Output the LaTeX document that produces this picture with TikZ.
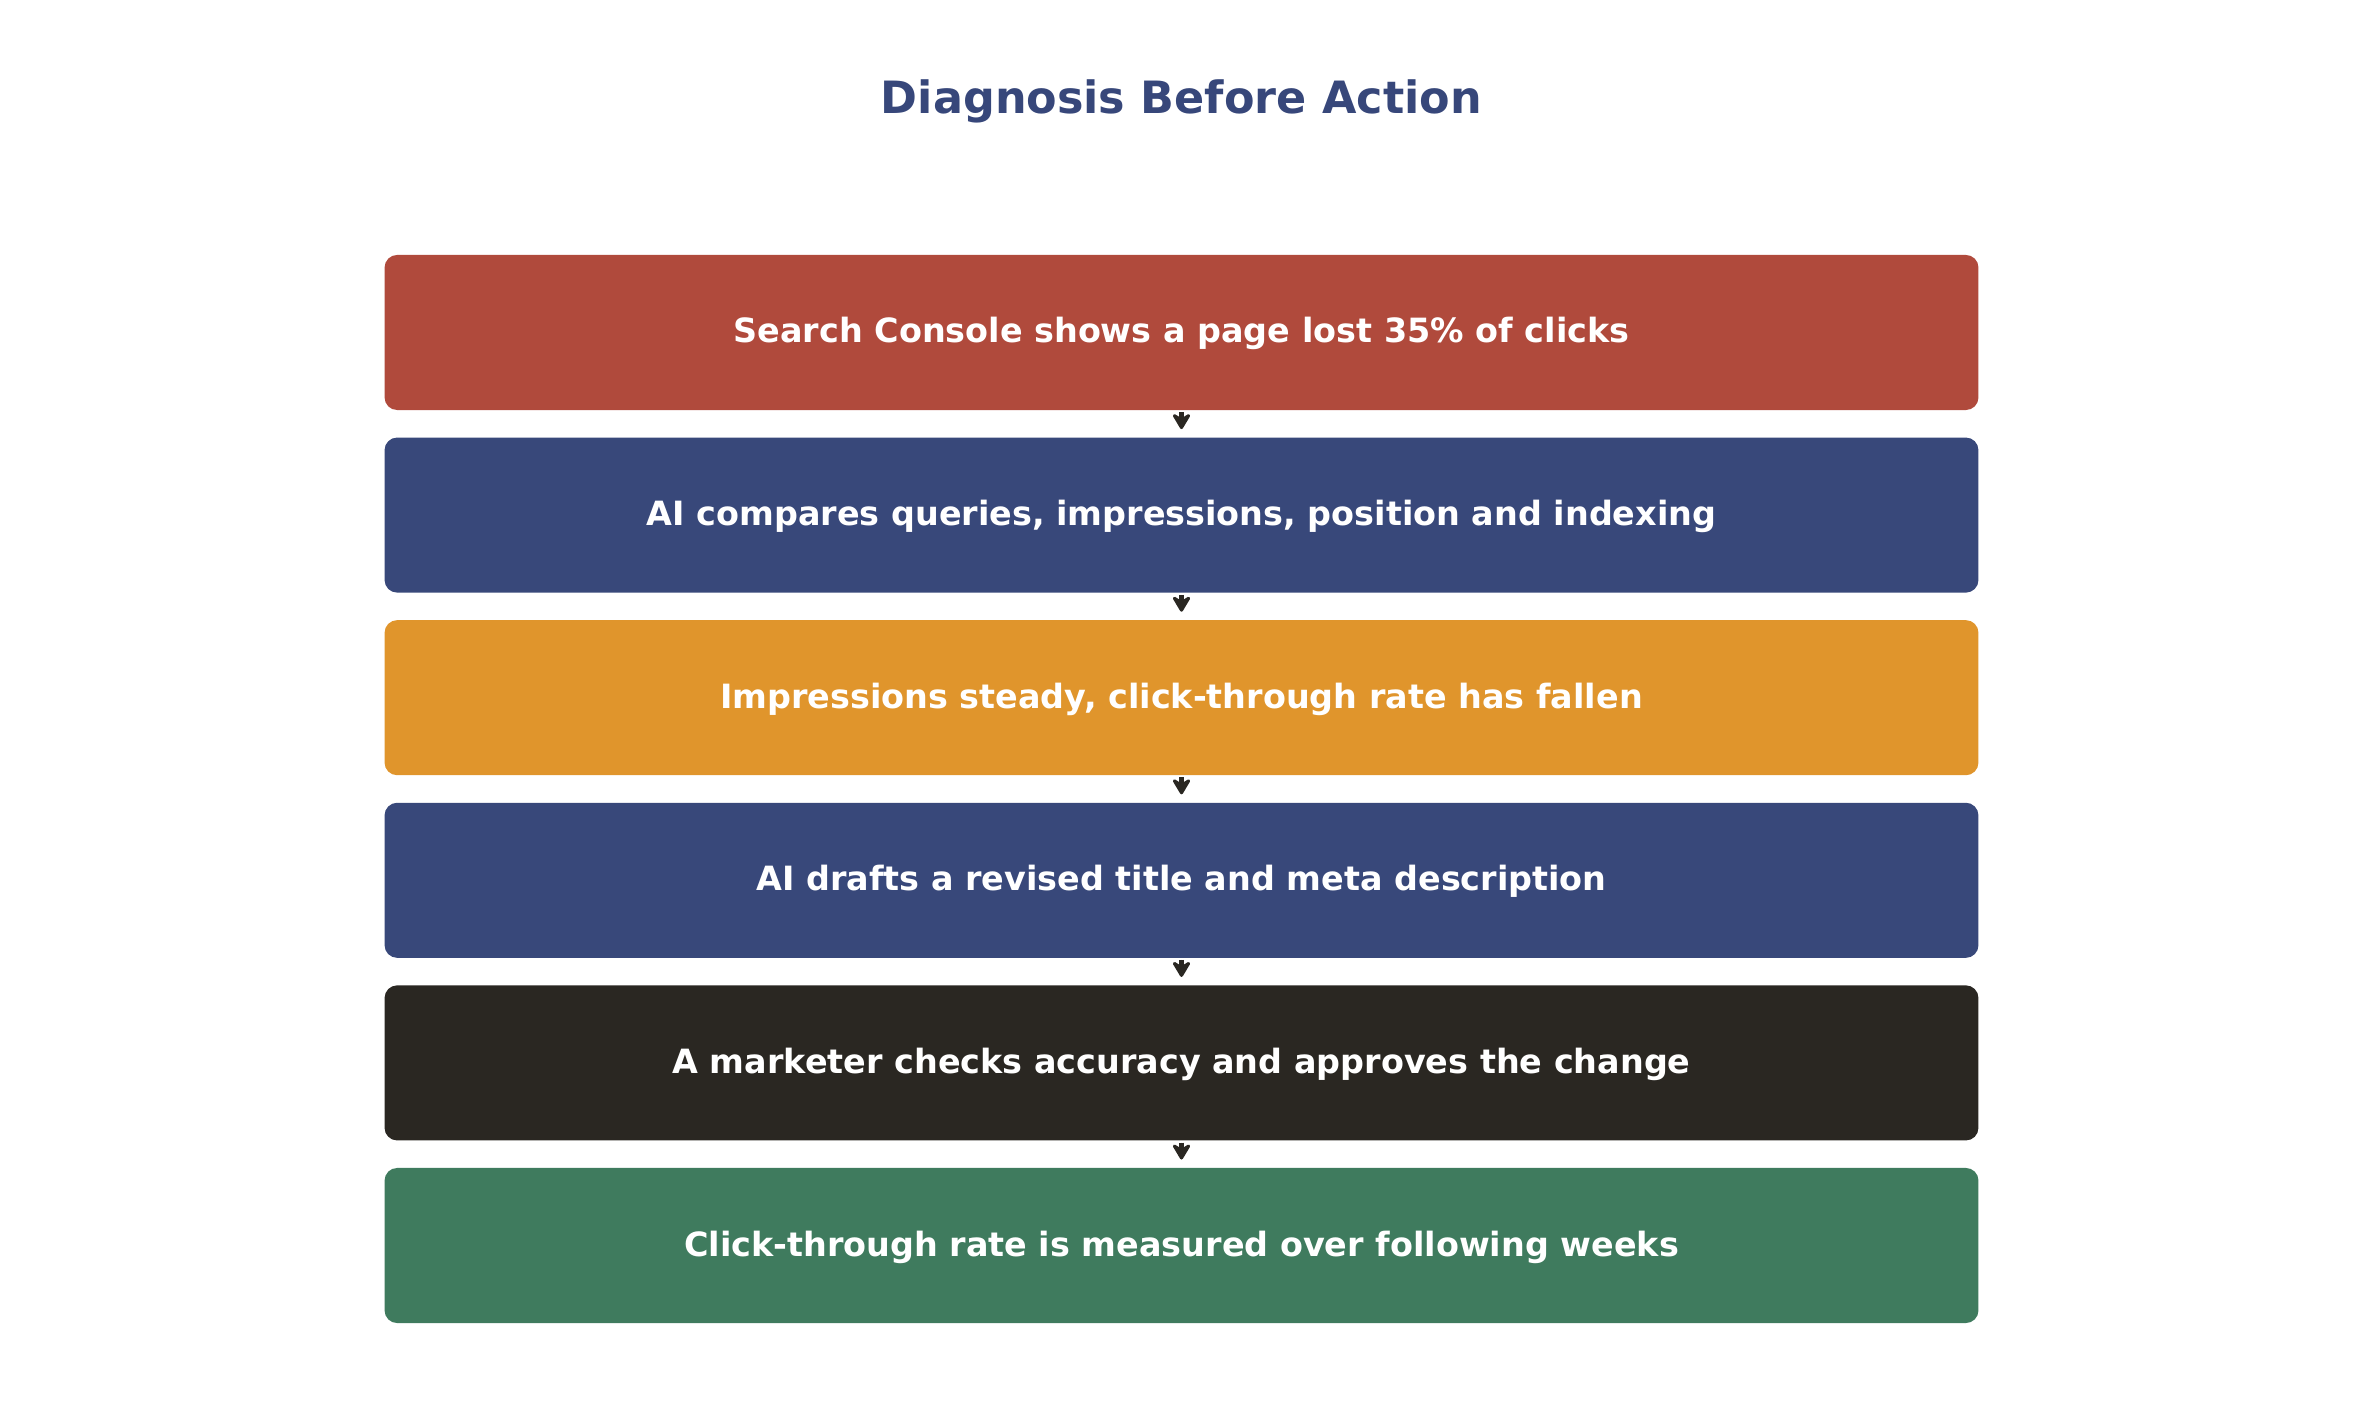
\documentclass[tikz,border=0pt]{standalone}
\usepackage{fontspec}
\setmainfont{DejaVu Sans}
\usetikzlibrary{arrows.meta}
\definecolor{cred}{HTML}{B04A3C}
\definecolor{cblue}{HTML}{38487A}
\definecolor{corange}{HTML}{E0952C}
\definecolor{cdark}{HTML}{2A2722}
\definecolor{cgreen}{HTML}{3F7B5E}
\definecolor{ctitle}{HTML}{37477A}
\begin{document}
\begin{tikzpicture}[x=0.01cm,y=-0.01cm,
  stepbox/.style={rounded corners=3.6pt,minimum width=15.93cm,minimum height=1.55cm,inner sep=0pt},
  steptext/.style={anchor=base,text=white,inner sep=0pt,font=\fontsize{9.5pt}{12pt}\selectfont\bfseries},
  flowarrow/.style={-{Stealth[length=5.5pt,width=6.5pt,inset=2pt,round]},line width=1.4pt,draw=cdark,fill=cdark}]
\useasboundingbox (0,0) rectangle (2363,1428);
\node[anchor=base,text=ctitle,font=\fontsize{12.65pt}{15pt}\selectfont\bfseries] (title) at (1181.5,114) {Diagnosis Before Action};
\node[stepbox,fill=cred]    (b1) at (1181.5,332.5) {};
\node[stepbox,fill=cblue]   (b2) at (1181.5,515.1) {};
\node[stepbox,fill=corange] (b3) at (1181.5,697.7) {};
\node[stepbox,fill=cblue]   (b4) at (1181.5,880.3) {};
\node[stepbox,fill=cdark]   (b5) at (1181.5,1062.9) {};
\node[stepbox,fill=cgreen]  (b6) at (1181.5,1245.5) {};
\foreach \n/\t in {b1/{Search Console shows a page lost 35\% of clicks},
  b2/{AI compares queries, impressions, position and indexing},
  b3/{Impressions steady, click-through rate has fallen},
  b4/{AI drafts a revised title and meta description},
  b5/{A marketer checks accuracy and approves the change},
  b6/{Click-through rate is measured over following weeks}}
  \node[steptext] at ([yshift=-0.105cm]\n.center) {\t};
\foreach \a/\b in {b1/b2,b2/b3,b3/b4,b4/b5,b5/b6}
  \draw[flowarrow,shorten <=0.4pt,shorten >=2.2pt] (\a.south) -- (\b.north);
\end{tikzpicture}
\end{document}
